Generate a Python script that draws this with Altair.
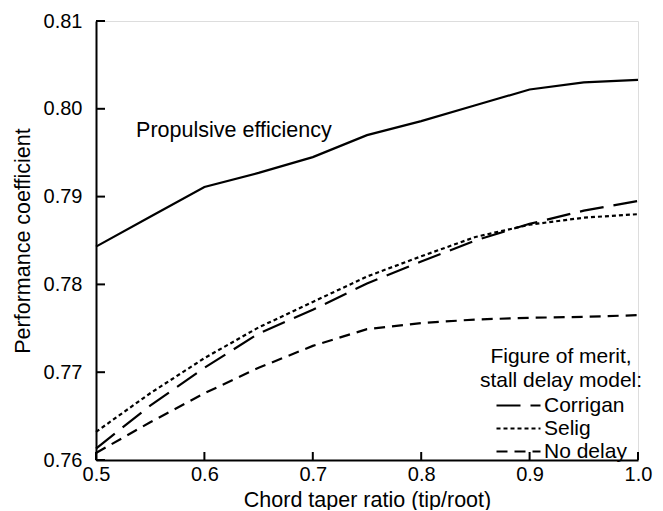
import altair as alt
import pandas as pd

# ---- data ----
taper = [0.5, 0.55, 0.6, 0.65, 0.7, 0.75, 0.8, 0.85, 0.9, 0.95, 1.0]
propulsive = [0.7843, 0.7877, 0.7911, 0.7927, 0.7945, 0.7970, 0.7986, 0.8004, 0.8022, 0.8030, 0.8033]
corrigan = [0.7613, 0.7662, 0.7705, 0.7744, 0.7771, 0.7801, 0.7826, 0.7850, 0.7869, 0.7884, 0.7895]
selig = [0.7632, 0.7676, 0.7716, 0.7751, 0.7780, 0.7809, 0.7832, 0.7854, 0.7868, 0.7876, 0.7880]
no_delay = [0.7608, 0.7643, 0.7676, 0.7705, 0.7730, 0.7749, 0.7756, 0.7760, 0.7762, 0.7763, 0.7765]

series_names = ["Corrigan", "Selig", "No delay"]
x_ticks = [0.5, 0.6, 0.7, 0.8, 0.9, 1.0]
y_ticks = [0.76, 0.77, 0.78, 0.79, 0.80, 0.81]
annotation = {"x": 0.537, "y": 0.7975, "text": "Propulsive efficiency"}

FONT = "Liberation Sans"
W, H = 542, 439

prop_df = pd.DataFrame({"x": taper, "y": propulsive})
fom_df = pd.DataFrame({
    "x": taper * 3,
    "y": corrigan + selig + no_delay,
    "model": [n for n in series_names for _ in taper],
})

xs = alt.Scale(domain=[0.5, 1.0], nice=False, zero=False)
ys = alt.Scale(domain=[0.76, 0.81], nice=False, zero=False)

x_axis = alt.Axis(values=x_ticks, format=".1f", title="Chord taper ratio (tip/root)",
                  ticks=False, tickSize=0, labelPadding=4, titlePadding=5,
                  labelFlush=False, domainColor="black", domainWidth=2, grid=False,
                  labelFontSize=20, titleFontSize=21.5, titleFontWeight="normal",
                  labelColor="black", titleColor="black", labelFont=FONT, titleFont=FONT)
y_axis = alt.Axis(values=y_ticks, format=".2f", title="Performance coefficient",
                  ticks=False, tickSize=0, labelPadding=14, titlePadding=9,
                  labelFlush=False, domainColor="black", domainWidth=2, grid=False,
                  labelFontSize=20, titleFontSize=21.5, titleFontWeight="normal",
                  labelColor="black", titleColor="black", labelFont=FONT, titleFont=FONT)

prop_line = alt.Chart(prop_df).mark_line(color="black", strokeWidth=2.2).encode(
    x=alt.X("x:Q", scale=xs, axis=x_axis),
    y=alt.Y("y:Q", scale=ys, axis=y_axis),
)

fom_lines = alt.Chart(fom_df).mark_line(color="black", strokeWidth=2.2).encode(
    x=alt.X("x:Q", scale=xs),
    y=alt.Y("y:Q", scale=ys),
    strokeDash=alt.StrokeDash(
        "model:N",
        scale=alt.Scale(domain=series_names, range=[[24, 10], [4, 3], [11, 7]]),
        legend=alt.Legend(
            title=["Figure of merit,", "stall delay model:"],
            orient="none", legendX=384, legendY=325,
            titleAnchor="middle", titleAlign="center", titleFontSize=21,
            titleFontWeight="normal", titleFont=FONT, titleColor="black",
            titleLineHeight=24, titlePadding=2, titleLimit=400,
            labelFontSize=21, labelFont=FONT, labelColor="black", labelLimit=300,
            labelOffset=24, symbolType="M-1,0H3", symbolSize=484,
            symbolStrokeWidth=2.2, symbolStrokeColor="black",
            symbolFillColor="transparent", rowPadding=0,
        ),
    ),
    order=alt.Order("x:Q"),
)

tick_x_df = pd.DataFrame({"x": x_ticks})
tick_y_df = pd.DataFrame({"y": y_ticks})
x_tick_marks = alt.Chart(tick_x_df).mark_rule(color="black", strokeWidth=2).encode(
    x=alt.X("x:Q", scale=xs), y=alt.value(H), y2=alt.value(H - 8))
y_tick_marks = alt.Chart(tick_y_df).mark_rule(color="black", strokeWidth=2).encode(
    y=alt.Y("y:Q", scale=ys), x=alt.value(0), x2=alt.value(9))

label = alt.Chart(pd.DataFrame([annotation])).mark_text(
    align="left", baseline="middle", fontSize=21.5, font=FONT, color="black"
).encode(x=alt.X("x:Q", scale=xs), y=alt.Y("y:Q", scale=ys), text="text:N")

chart = alt.layer(prop_line, fom_lines, x_tick_marks, y_tick_marks, label).properties(
    width=W, height=H,
    autosize=alt.AutoSizeParams(type="none"),
    padding={"left": 88, "top": 13, "right": 17, "bottom": 50},
).configure_view(stroke=None).configure(background="white")

chart.save("out.html", embed_options={"renderer": "svg", "actions": False})
